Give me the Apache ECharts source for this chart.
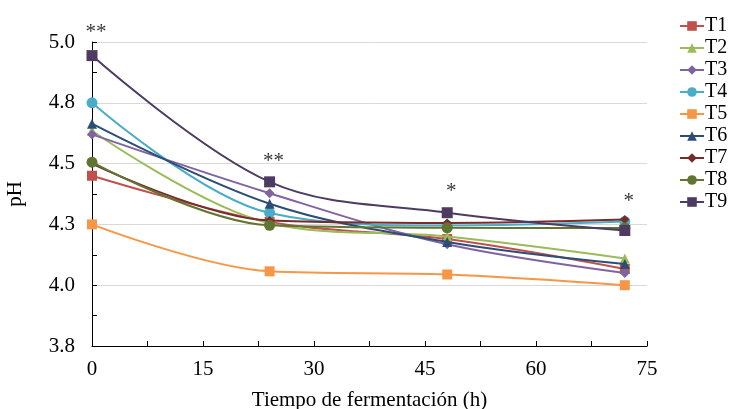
<!DOCTYPE html>
<html>
<head>
<meta charset="utf-8">
<script src="https://cdn.jsdelivr.net/npm/echarts@6/dist/echarts.min.js"></script>
<style>html,body{margin:0;padding:0;background:#fff}#c{width:732px;height:409px}</style>
</head>
<body>
<div id="c"></div>
<script>
var hours = [0, 24, 48, 72];
var seriesNames = ['T1','T2','T3','T4','T5','T6','T7','T8','T9'];
var T1 = [4.45, 4.26, 4.19, 4.067];
var T2 = [4.635, 4.255, 4.20, 4.11];
var T3 = [4.62, 4.378, 4.168, 4.05];
var T4 = [4.75, 4.297, 4.245, 4.262];
var T5 = [4.25, 4.057, 4.044, 4.0];
var T6 = [4.664, 4.335, 4.178, 4.087];
var T7 = [4.50, 4.266, 4.256, 4.27];
var T8 = [4.506, 4.246, 4.236, 4.235];
var T9 = [4.944, 4.425, 4.298, 4.225];
var allValues = [T1,T2,T3,T4,T5,T6,T7,T8,T9];
var signifLabels = ['**', '**', '*', '*'];
var signifY = [5.04, 4.51, 4.385, 4.345];
var yTicks = [3.75, 5.0, 0.25];
var xTicks = [0, 75, 15];

var colors = ['#C0504D','#9BBB59','#8064A2','#4BACC6','#F79646','#2C4D75','#772C2A','#5F7530','#4D3B62'];
var symbols = ['rect','triangle','diamond','circle','rect','triangle','diamond','circle','rect'];
var sizes = [10,10,10,11,10,10,9,11,11];
var FONT = '"Liberation Serif", "Times New Roman", serif';

var series = seriesNames.map(function(n, i){
  return {
    name: n, type: 'line', smooth: 0.35,
    data: hours.map(function(h, j){ return [h, allValues[i][j]]; }),
    symbol: symbols[i], symbolSize: sizes[i],
    lineStyle: { color: colors[i], width: 2 },
    itemStyle: { color: colors[i] },
    z: 2 + i
  };
});
series.push({
  name: 'sig', type: 'scatter', clip: false, symbolSize: 0,
  data: hours.map(function(h, j){ return [h, signifY[j]]; }),
  label: { show: true, position: 'inside', offset: [4, 0], formatter: function(p){ return signifLabels[p.dataIndex]; },
           fontFamily: FONT, fontSize: 21, color: '#000' },
  silent: true, z: 20
});

var chart = echarts.init(document.getElementById('c'));
chart.setOption({
  animation: false,
  textStyle: { fontFamily: FONT },
  grid: { left: 92, right: 85, top: 42, bottom: 63, containLabel: false, outerBoundsMode: 'none' },
  legend: {
    data: seriesNames, orient: 'vertical', left: 674, top: 11,
    itemWidth: 24, itemHeight: 12, itemGap: 2,
    textStyle: { fontFamily: FONT, fontSize: 20, color: '#000', padding: [0,0,0,-4] }
  },
  xAxis: {
    type: 'value', min: xTicks[0], max: xTicks[1], interval: xTicks[2],
    name: 'Tiempo de fermentación (h)', nameLocation: 'middle', nameGap: 44,
    nameTextStyle: { fontFamily: FONT, fontSize: 21, color: '#000' },
    axisLine: { lineStyle: { color: '#000', width: 1 } },
    axisTick: { inside: true, length: 5, lineStyle: { color: '#000' } },
    minorTick: { show: true, splitNumber: 2, length: 5, lineStyle: { color: '#000' } },
    splitLine: { show: false },
    axisLabel: { fontFamily: FONT, fontSize: 21, color: '#000', margin: 13 }
  },
  yAxis: {
    type: 'value', min: yTicks[0], max: yTicks[1], interval: yTicks[2],
    name: 'pH', nameLocation: 'middle', nameGap: 66, nameRotate: 90,
    nameTextStyle: { fontFamily: FONT, fontSize: 21, color: '#000' },
    axisLine: { show: true, lineStyle: { color: '#000', width: 1 } },
    axisTick: { show: true, inside: true, length: 5, lineStyle: { color: '#000' } },
    minorTick: { show: true, splitNumber: 2, length: 5, lineStyle: { color: '#000' } },
    splitLine: { show: true, lineStyle: { color: '#d9d9d9', width: 1 } },
    axisLabel: { fontFamily: FONT, fontSize: 21, color: '#000', margin: 17,
      formatter: function(v){ return v.toFixed(1); } }
  },
  series: series
});
</script>
</body>
</html>
